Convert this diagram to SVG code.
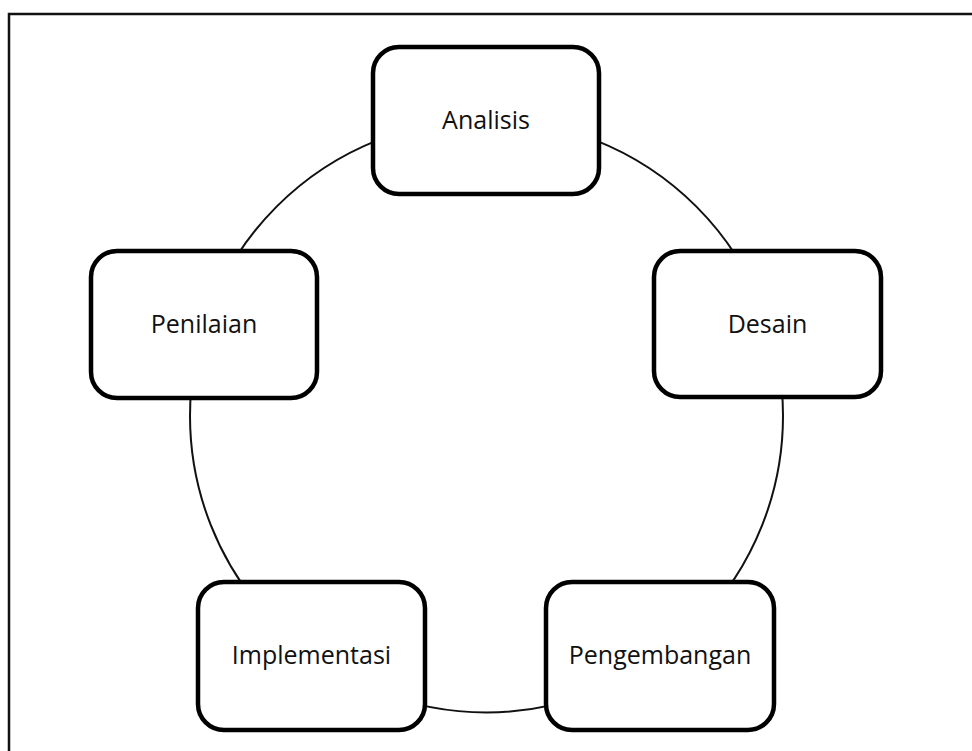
<svg xmlns="http://www.w3.org/2000/svg" width="972" height="751" viewBox="0 0 972 751">
<style>
.box{fill:#fff;stroke:#000;stroke-width:4.5}
.lbl{font-family:"Open Sans","Liberation Sans",sans-serif;font-size:25px;fill:#111;text-anchor:middle}
.ring{fill:none;stroke:#111;stroke-width:2}
.frame{fill:none;stroke:#111;stroke-width:2.5}
</style>
<rect width="972" height="751" fill="#fff"/>
<path class="frame" d="M9,751 V14 H972"/>
<g id="connectors">
<circle class="ring" cx="486.5" cy="416" r="296.5"/>
</g>
<g id="analisis">
<rect class="box" x="373" y="47" width="226" height="147" rx="26"/>
<text class="lbl" x="486" y="129">Analisis</text>
</g>
<g id="desain">
<rect class="box" x="654" y="251" width="227" height="146" rx="26"/>
<text class="lbl" x="767.5" y="333">Desain</text>
</g>
<g id="pengembangan">
<rect class="box" x="546" y="582" width="228" height="148" rx="26"/>
<text class="lbl" x="660" y="664">Pengembangan</text>
</g>
<g id="implementasi">
<rect class="box" x="198" y="582" width="227" height="148" rx="26"/>
<text class="lbl" x="311.5" y="664">Implementasi</text>
</g>
<g id="penilaian">
<rect class="box" x="91" y="251" width="226" height="147" rx="26"/>
<text class="lbl" x="204" y="333">Penilaian</text>
</g>
</svg>
